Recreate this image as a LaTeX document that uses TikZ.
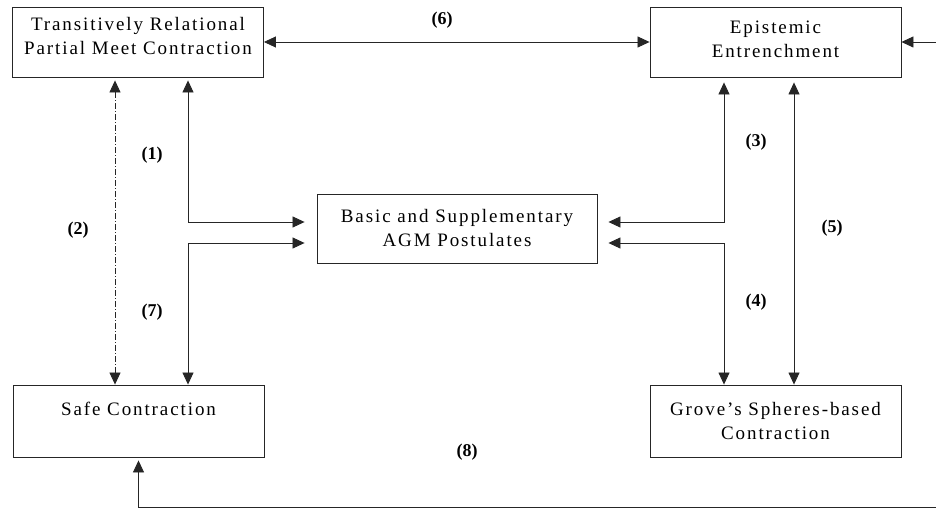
\documentclass[tikz,border=0pt]{standalone}
\usepackage{fontspec}
\setmainfont{Liberation Serif}
\newfontfamily\boxfont{Liberation Serif}[LetterSpace=10]
\usetikzlibrary{arrows.meta}
\begin{document}
\begin{tikzpicture}[x=1pt,y=-1pt,
  box/.style={draw=black!85, line width=0.9pt, minimum width=251pt, minimum height=70pt,
    align=center, inner sep=0pt, font=\boxfont\fontsize{19}{24}\selectfont},
  boxtext/.style={align=center, inner sep=0pt, font=\boxfont\fontsize{19}{24}\selectfont},
  conn/.style={line width=0.8pt, draw=black!85},
  tip/.style={-{Triangle[length=12pt,width=11pt]}},
  dtip/.style={{Triangle[length=12pt,width=11pt]}-{Triangle[length=12pt,width=11pt]}},
  num/.style={font=\bfseries\fontsize{18}{20}\selectfont, inner sep=0pt}]
\useasboundingbox (0,0) rectangle (936,510);
\fill[white] (0,0) rectangle (936,510);

% boxes
\node[box] (trpm) at (138,42) {};
\node[boxtext] (trpmtext) at (138,36) {Transitively Relational\\Partial Meet Contraction};
\node[box] (epi) at (775.5,42) {};
\node[boxtext] (epitext) at (775.5,39) {Epistemic\\Entrenchment};
\node[box, minimum width=280pt, minimum height=69pt] (basic) at (457,228.5) {Basic and Supplementary\\AGM Postulates};
\node[box, minimum height=72pt] (safe) at (138.5,421) {Safe Contraction\\\mbox{}};
\node[box, minimum height=72pt] (grove) at (775.5,421) {Grove’s Spheres-based\\Contraction};

% lanes of the connectors
\coordinate (xa) at (115,0);
\coordinate (xb) at (188,0);
\coordinate (xc) at (724,0);
\coordinate (xd) at (794,0);
\coordinate (ya) at (0,222);
\coordinate (yb) at (0,243);
\coordinate (rin) at (936,42);
\coordinate (rout) at (936,507);

% connectors
\draw[conn, dtip] (trpm.east) -- (epi.west);
\draw[conn, tip] (rin) -- (epi.east);
\draw[conn, dtip, dash pattern=on 6pt off 2pt on 1pt off 2pt, shorten <=3pt] (trpm.south -| xa) -- (safe.north -| xa);
\draw[conn, dtip, shorten <=3pt, shorten >=12pt] (trpm.south -| xb) |- (basic.west |- ya);
\draw[conn, dtip, shorten <=12pt] (basic.west |- yb) -| (safe.north -| xb);
\draw[conn, dtip, shorten <=5pt, shorten >=11pt] (epi.south -| xc) |- (basic.east |- ya);
\draw[conn, dtip, shorten <=11pt] (basic.east |- yb) -| (grove.north -| xc);
\draw[conn, dtip, shorten <=5pt] (epi.south -| xd) -- (grove.north -| xd);
\draw[conn, tip, shorten >=3pt] (rout) -| (safe.south);

% labels
\node[num] (l1) at (152,155) {(1)};
\node[num] (l2) at (78,230) {(2)};
\node[num] (l3) at (756,142) {(3)};
\node[num] (l4) at (756,302) {(4)};
\node[num] (l5) at (832,228) {(5)};
\node[num] (l6) at (442,20) {(6)};
\node[num] (l7) at (152,312) {(7)};
\node[num] (l8) at (467,452) {(8)};
\end{tikzpicture}
\end{document}
